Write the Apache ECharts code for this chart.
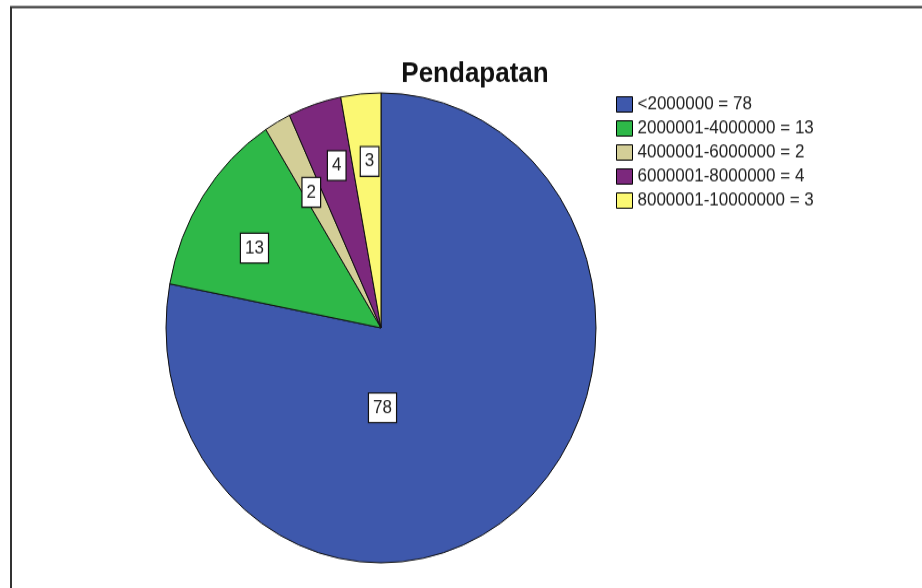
<!DOCTYPE html>
<html>
<head>
<meta charset="utf-8">
<script src="https://cdn.jsdelivr.net/npm/echarts@6/dist/echarts.min.js"></script>
<style>
  html, body { margin: 0; padding: 0; background: #fff; overflow: hidden; }
  #wrap { width: 922px; height: 588px; overflow: hidden; position: relative; }
  /* the exported chart is stretched vertically, so the drawing area is scaled on Y */
  #chart { width: 922px; height: 538px; transform-origin: 0 0; transform: scaleY(1.0929); }
</style>
</head>
<body>
<div id="wrap"><div id="chart"></div></div>
<script>
// Income groups (Rupiah) and the number of respondents in each
const categories = ['<2000000', '2000001-4000000', '4000001-6000000', '6000001-8000000', '8000001-10000000'];
const counts = [78, 13, 2, 4, 3];
const colors = ['#3E58AC', '#2EB848', '#D3CE97', '#7C287D', '#FBF873'];
const chartTitle = 'Pendapatan';

const FONT = '"Liberation Sans", Arial, sans-serif';
const CX = 381, CY = 300, R = 215;

// small nudges for the value boxes of the narrow slices
const labelNudge = [null, { dx: 0, dy: 13 }, { dx: 4, dy: 10 }, { dx: 3, dy: -3 }, { dx: 3, dy: 0 }];

const sliceData = categories.map((name, i) => ({
  name: name,
  value: counts[i],
  itemStyle: { color: colors[i] }
}));

const labelData = categories.map((name, i) => ({ name: name, value: counts[i] }));

const chart = echarts.init(document.getElementById('chart'), null, { renderer: 'canvas' });

chart.setOption({
  animation: false,
  backgroundColor: '#fff',
  title: {
    text: chartTitle,
    left: 470,
    top: 50,
    textAlign: 'center',
    textStyle: { fontFamily: FONT, fontSize: 26, fontWeight: 'bold', color: '#111' }
  },
  legend: {
    orient: 'vertical',
    left: 616,
    top: 87,
    padding: 0,
    itemWidth: 16,
    itemHeight: 14,
    itemGap: 5,
    icon: 'rect',
    data: categories,
    selectedMode: false,
    itemStyle: { borderColor: '#000', borderWidth: 1 },
    textStyle: { fontFamily: FONT, fontSize: 17, color: '#222' },
    formatter: name => name + ' = ' + counts[categories.indexOf(name)]
  },
  graphic: [{
    type: 'rect',
    shape: { x: 11, y: 6.5, width: 960, height: 620 },
    style: { fill: 'none', stroke: '#333', lineWidth: 2 },
    silent: true
  }],
  series: [
    {
      // filled slices
      type: 'pie',
      center: [CX, CY],
      radius: [0, R],
      startAngle: 90,
      clockwise: true,
      silent: true,
      label: { show: false },
      labelLine: { show: false },
      itemStyle: { borderColor: '#111', borderWidth: 1 },
      data: sliceData
    },
    {
      // invisible ring used only to place the value boxes further out
      type: 'pie',
      center: [CX, CY],
      radius: [0, 300],
      startAngle: 90,
      clockwise: true,
      silent: true,
      itemStyle: { color: 'rgba(0,0,0,0)', borderWidth: 0 },
      label: {
        show: true,
        position: 'inside',
        formatter: '{c}',
        fontFamily: FONT,
        fontSize: 17,
        color: '#222',
        backgroundColor: '#fff',
        borderColor: '#111',
        borderWidth: 1.2,
        padding: [5, 4, 4, 4],
        lineHeight: 17
      },
      labelLine: { show: false },
      labelLayout: function (p) {
        // the large slice keeps its box just below the centre
        if (p.dataIndex === 0) {
          return { x: CX + 1.5, y: CY + 0.34 * R, align: 'center', verticalAlign: 'middle' };
        }
        return labelNudge[p.dataIndex];
      },
      data: labelData
    }
  ]
});
</script>
</body>
</html>
